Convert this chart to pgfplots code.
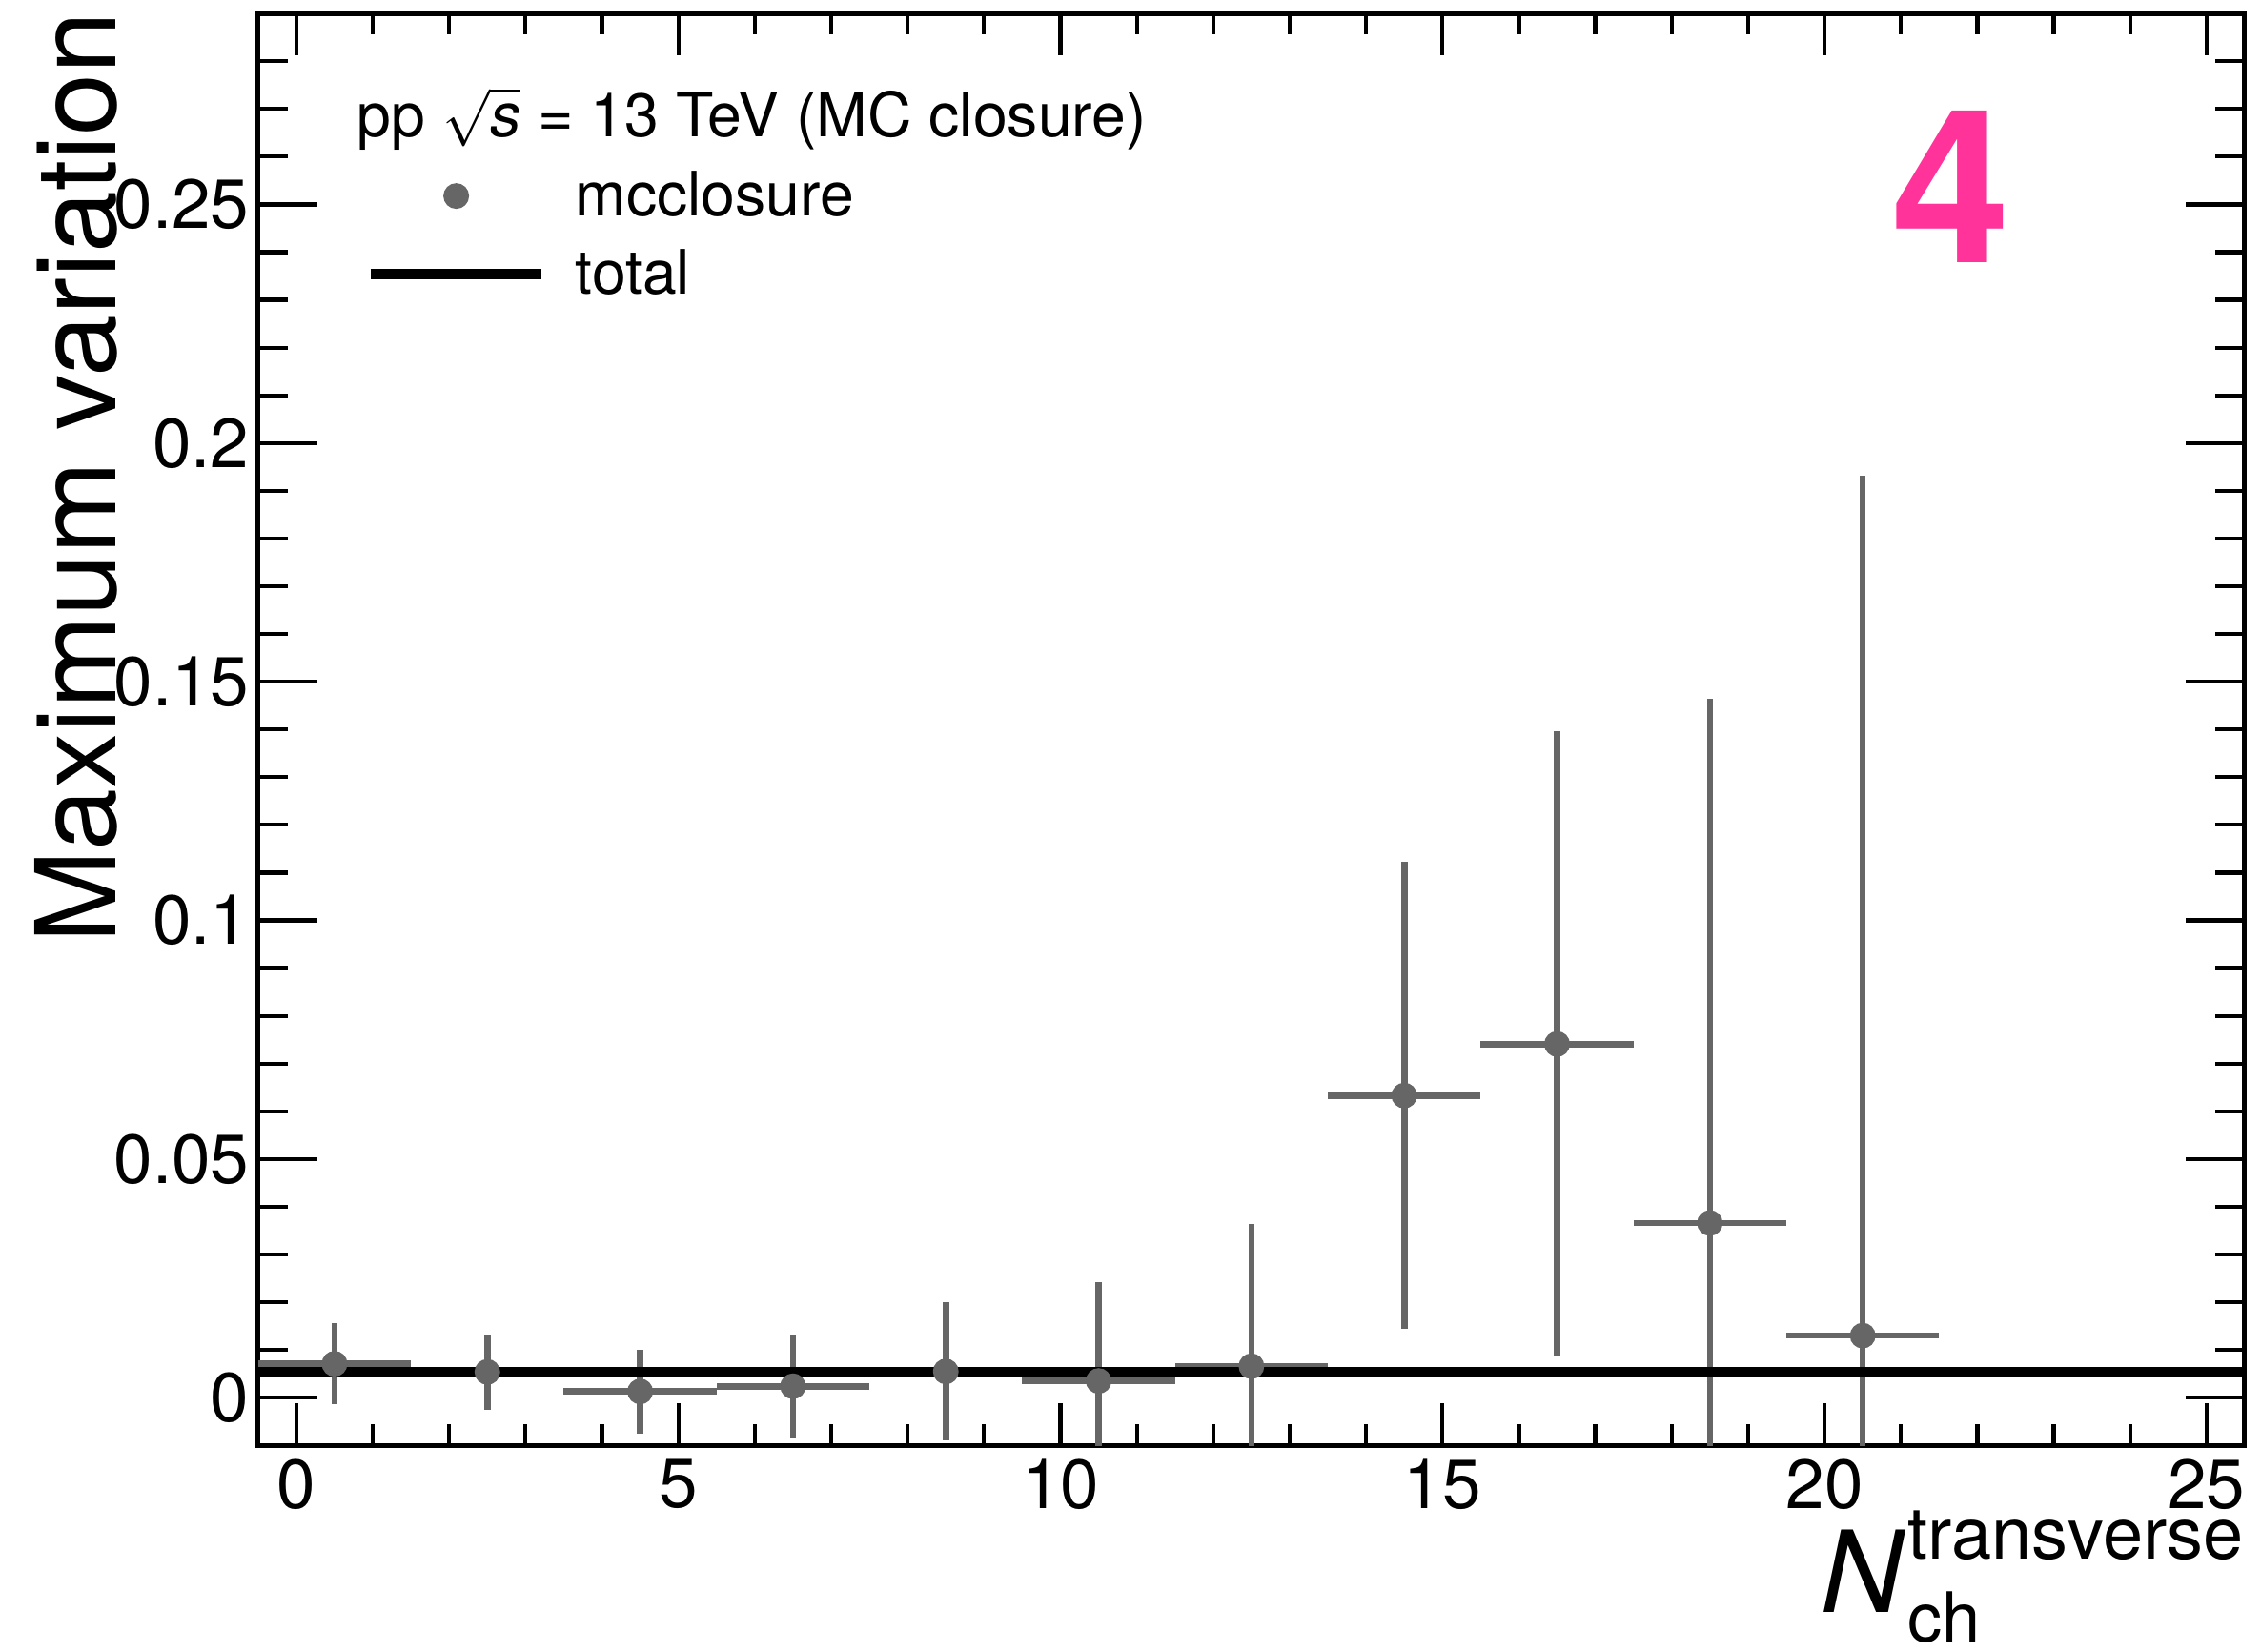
\documentclass[border=0pt]{standalone}
\usepackage{pgfplots}
\pgfplotsset{compat=1.18}
\usepackage{fontspec}
\setmainfont{TeX Gyre Heros}
\usepackage{amsmath}
\definecolor{gray66}{RGB}{102,102,102}
\definecolor{rootpink}{RGB}{255,51,153}
\begin{document}
\begin{tikzpicture}
\begin{axis}[
  scale only axis,
  width=417.9pt, height=301.2pt,
  xmin=-0.5, xmax=25.5, ymin=-0.01, ymax=0.29,
  axis line style={line width=1pt},
  xtick={0,5,10,15,20,25},
  ytick={0,0.05,0.1,0.15,0.2,0.25},
  minor xtick={1,2,3,4,6,7,8,9,11,12,13,14,16,17,18,19,21,22,23,24},
  minor ytick={0.01,0.02,0.03,0.04,0.06,0.07,0.08,0.09,0.11,0.12,0.13,0.14,0.16,0.17,0.18,0.19,0.21,0.22,0.23,0.24,0.26,0.27,0.28},
  tick align=inside, xtick pos=both, ytick pos=both,
  tick style={line width=0.85pt, black},
  xtick style={/pgfplots/major tick length=8.8pt,/pgfplots/minor tick length=4.4pt},
  ytick style={/pgfplots/major tick length=12.4pt,/pgfplots/minor tick length=6.2pt},
  /pgf/number format/assume math mode=true,
  tick label style={font=\fontsize{14.6}{17}\selectfont},
  xticklabel style={inner ysep=2.8pt},
  scaled y ticks=false,
  yticklabel style={/pgf/number format/fixed, /pgf/number format/precision=2, inner xsep=1.7pt},
  ylabel={Maximum variation},
  ylabel style={at={(axis description cs:-0.0715,1.0015)}, anchor=base east, inner sep=0pt, font=\fontsize{23.4}{28}\selectfont},
  xlabel={{\itshape N}\kern1pt\makebox[0pt][l]{\raisebox{-6.2pt}{\fontsize{14.5}{16}\selectfont ch}}\raisebox{11.2pt}{\fontsize{15.2}{17}\selectfont transverse}},
  xlabel style={at={(axis description cs:1,0)}, yshift=-35.2pt, anchor=base east, inner sep=0pt, font=\fontsize{23.8}{28}\selectfont},
  legend style={at={(axis description cs:0.0540,0.8888)}, anchor=north west, draw=none, fill=none, inner sep=0pt, outer sep=0pt, row sep=7.6pt, column sep=6pt, font=\fontsize{12.9}{15}\selectfont, nodes={inner sep=0pt, text height=9pt, text depth=0pt}},
  legend cell align=left,
]
\addplot[only marks, mark=*, mark size=2.5pt, color=gray66, mark options={fill=gray66, draw=gray66},
  legend image code/.code={\fill[gray66] (18pt,-0.4pt) circle (2.5pt);},
  error bars/.cd, x dir=both, x explicit, y dir=both, y explicit, error mark=none,
  error bar style={line width=1.33pt, gray66}]
  coordinates {
   (0.5,0.0071) +- (1,0.0085)
   (2.5,0.0054) +- (1,0.0079)
   (4.5,0.0013) +- (1,0.0088)
   (6.5,0.0024) +- (1,0.0109)
   (8.5,0.0055) +- (1,0.0145)
   (10.5,0.0035) +- (1,0.0208)
   (12.5,0.0066) +- (1,0.0297)
   (14.5,0.0633) +- (1,0.0489)
   (16.5,0.0741) +- (1,0.0655)
   (18.5,0.0366) +- (1,0.1099)
   (20.5,0.0130) +- (1,0.1802)
  };
\addlegendentry{mcclosure}
\addplot[black, line width=2pt, no marks,
  legend image code/.code={\draw[black, line width=2.2pt] (0pt,-0.3pt) -- (36pt,-0.3pt);}]
  coordinates {(-0.5,0.0055) (25.5,0.0055)};
\addlegendentry{total}
\node[anchor=base west, inner sep=0pt, font=\fontsize{12.9}{15}\selectfont] at (axis description cs:0.0495,0.9136) {pp~$\sqrt{\textit{s}}$ = 13 TeV (MC closure)};
\node[font=\fontsize{45}{52}\selectfont\bfseries, text=rootpink, inner sep=0pt] at (axis description cs:0.8521,0.8791) {4};
\end{axis}
\path ([xshift=-54.3pt,yshift=-43.36pt]current axis.south west) rectangle ([xshift=2.18pt,yshift=2.84pt]current axis.north east);
\end{tikzpicture}
\end{document}
